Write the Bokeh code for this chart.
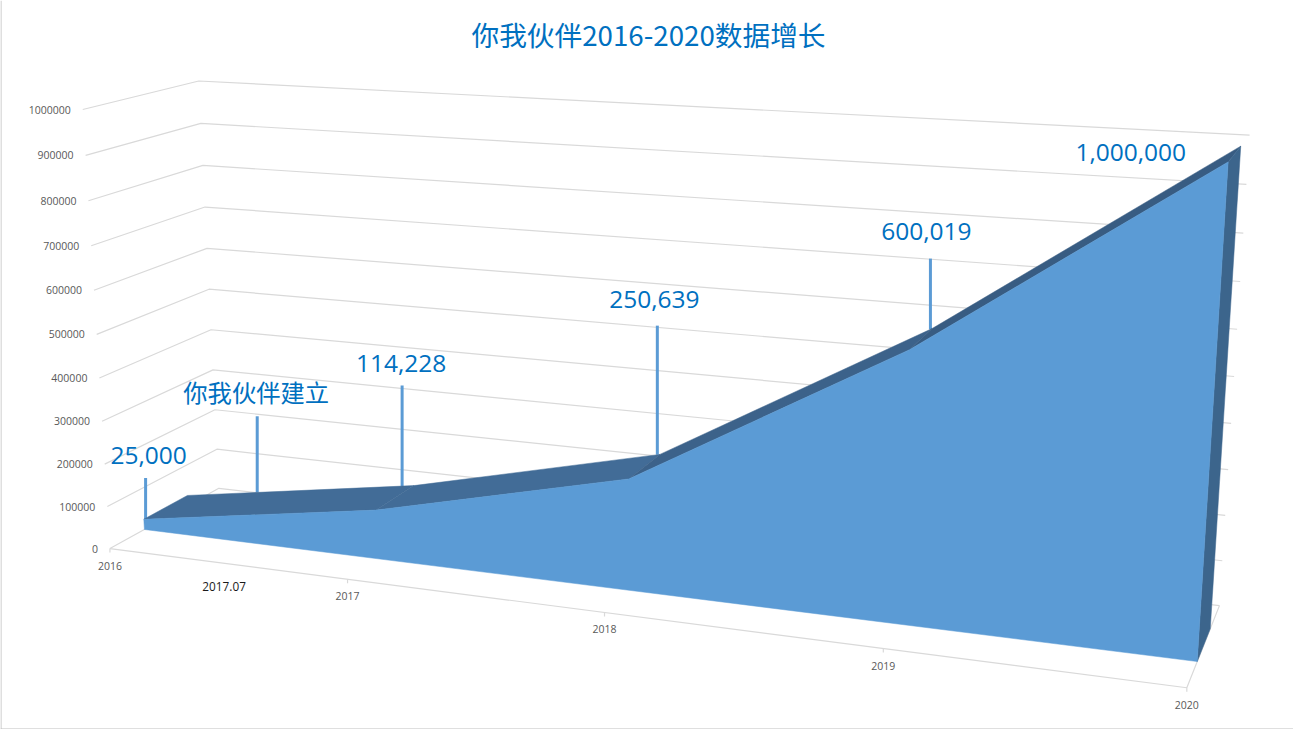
import numpy as np
from bokeh.plotting import figure
from bokeh.embed import file_html
from bokeh.resources import INLINE
from bokeh.core.properties import value

TITLE = "你我伙伴2016-2020数据增长"
categories = ["2016", "2017", "2018", "2019", "2020"]
# read from the drawn surface; the 2019 point sits a little below its printed label of 600,019
series_values = [25000, 114228, 250639, 585000, 1000000]
value_ticks = [0, 100000, 200000, 300000, 400000, 500000, 600000, 700000, 800000, 900000, 1000000]
callout_labels = ["25,000", "你我伙伴建立", "114,228", "250,639", "600,019", "1,000,000"]
callout_cat_pos = [0.008, 0.317, 0.95, 1.99, 2.994]
callout_depth = [0.30, 0.70, 0.70, 0.70, 0.70]
callout_rise = [100000, 187000, 240000, 292000, 150000]
callout_label_dx = [3, -1, -1, -3, -4]
callout_label_dy = [22, 25, 22, 26, 27]
extra_tick_label = "2017.07"
extra_tick_pos = 0.49

W, H = 1293, 729
DEPTH_FRONT, DEPTH_BACK = 0.30, 0.70
VMAX = max(value_ticks)
NC = len(categories) - 1

# Camera: 3D (category fraction, depth, value fraction) -> page pixels, fitted by least squares
anchors = [
    ((0, 0, 0), (110, 548)), ((1, 0, 0), (1187, 687)), ((1, 1, 0), (1219, 605)), ((0, 1, 0), (218, 488)),
    ((0, 0, 1), (82, 109)), ((0, 1, 1), (199, 80)), ((1, 1, 1), (1249, 135)),
    ((.25, 0, 0), (347, 579)), ((.5, 0, 0), (604, 612)), ((.75, 0, 0), (882, 648)),
    ((0, 0, .9), (85, 155)), ((0, 1, .9), (200, 123)),
]
A, b = [], []
for (X, Y, Z), (sx, sy) in anchors:
    A.append([X, Y, Z, 1, 0, 0, 0, 0, -sx * X, -sx * Y, -sx * Z]); b.append(sx)
    A.append([0, 0, 0, 0, X, Y, Z, 1, -sy * X, -sy * Y, -sy * Z]); b.append(sy)
sol = np.linalg.lstsq(np.array(A, float), np.array(b, float), rcond=None)[0]
P = np.append(sol, 1.0).reshape(3, 4)


def project(cat, depth, val):
    q = P @ np.array([cat / NC, depth, val / VMAX, 1.0])
    return q[0] / q[2], q[1] / q[2]


p = figure(width=W, height=H, x_range=(0, W), y_range=(H, 0), output_backend="svg",
           toolbar_location=None, min_border=0, outline_line_color=None, background_fill_color="white")
p.axis.visible = False
p.grid.visible = False

GRID = "#D9D9D9"
LABEL = "#595959"
BLUE = "#0070C0"
FONT_CJK = value("Noto Sans CJK SC")
FONT_NUM = value("Open Sans")

# picture frame
p.multi_line([[0.5, 0.5], [0, W]], [[0, H], [H - 0.5, H - 0.5]], line_color="#BFBFBF", line_width=1)

# back-wall and side-wall gridlines
xs, ys = [], []
for v in value_ticks:
    pts = [project(0, 0, v), project(0, 1, v), project(NC, 1, v)]
    xs.append([a for a, _ in pts]); ys.append([c for _, c in pts])
# floor edges
pts = [project(0, 0, 0), project(NC, 0, 0), project(NC, 1, 0)]
xs.append([a for a, _ in pts]); ys.append([c for _, c in pts])
# category ticks
for i in range(NC + 1):
    x0, y0 = project(i, 0, 0)
    xs.append([x0, x0]); ys.append([y0, y0 + 4])
p.multi_line(xs, ys, line_color=GRID, line_width=1.2)

# value labels
lx, ly = zip(*[project(0, 0, v) for v in value_ticks])
p.text([a - 12 for a in lx], list(ly), text=[str(v) for v in value_ticks], text_font=FONT_NUM,
       text_font_size="10.5px", text_color=LABEL, text_align="right", text_baseline="middle")

# category labels
cx, cy = zip(*[project(i, 0, 0) for i in range(NC + 1)])
p.text(list(cx), [c + 17 for c in cy], text=categories, text_font=FONT_NUM, text_font_size="10.5px",
       text_color=LABEL, text_align="center", text_baseline="middle")
ex, ey = project(extra_tick_pos, 0, 0)
p.text([ex], [ey + 23], text=[extra_tick_label], text_font=FONT_NUM, text_font_size="11.8px",
       text_color="#1A1A1A", text_align="center", text_baseline="middle")

# callout lines and labels
for pos, d, rise, lab, dx, dy in zip(callout_cat_pos, callout_depth, callout_rise, callout_labels,
                                     callout_label_dx, callout_label_dy):
    base = float(np.interp(pos, range(NC + 1), series_values))
    x0, y0 = project(pos, d, base)
    _, y1 = project(pos, d, base + rise)
    p.segment([x0], [y0], [x0], [y1], line_color="#5B9BD5", line_width=3)
    font = FONT_CJK if any(ord(ch) > 127 for ch in lab) else FONT_NUM
    size = "24.3px" if font is FONT_CJK else "24.5px"
    p.text([x0 + dx], [y1 - dy], text=[lab], text_font=font, text_font_size=size, text_color=BLUE,
           text_align="center", text_baseline="middle")

# roof of the area, segment by segment
roof_colors = ["#426C97", "#426C97", "#3C628A", "#385C82"]
for i, col in enumerate(roof_colors):
    q = [project(i, DEPTH_FRONT, series_values[i]), project(i + 1, DEPTH_FRONT, series_values[i + 1]),
         project(i + 1, DEPTH_BACK, series_values[i + 1]), project(i, DEPTH_BACK, series_values[i])]
    p.patch([a for a, _ in q], [c for _, c in q], fill_color=col, line_color=col, line_width=0.5)

# right side of the area
q = [project(NC, DEPTH_FRONT, 0), project(NC, DEPTH_BACK, 0),
     project(NC, DEPTH_BACK, series_values[-1]), project(NC, DEPTH_FRONT, series_values[-1])]
p.patch([a for a, _ in q], [c for _, c in q], fill_color="#3C658C", line_color="#3C658C", line_width=0.5)

# front of the area
q = [project(i, DEPTH_FRONT, series_values[i]) for i in range(NC + 1)]
q += [project(NC, DEPTH_FRONT, 0), project(0, DEPTH_FRONT, 0)]
p.patch([a for a, _ in q], [c for _, c in q], fill_color="#5B9BD5", line_color="#5B9BD5", line_width=0.5)

# last callout label sits beside the peak, over the wall
tx, ty = project(NC, DEPTH_BACK, series_values[-1])
p.text([tx - 110], [ty + 6], text=[callout_labels[-1]], text_font=FONT_NUM, text_font_size="24.5px",
       text_color=BLUE, text_align="center", text_baseline="middle")

# title
p.text([648], [33], text=[TITLE], text_font=FONT_CJK, text_font_size="27.7px", text_color=BLUE,
       text_align="center", text_baseline="middle")

open("out.html", "w").write(file_html(p, INLINE))
